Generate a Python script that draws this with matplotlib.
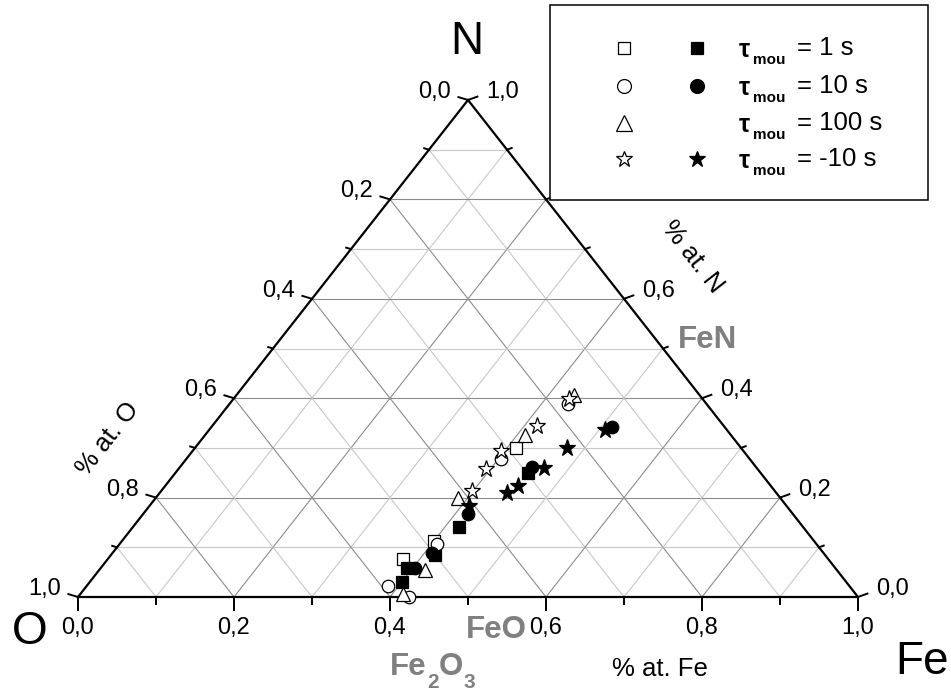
import matplotlib
matplotlib.use('Agg')
import matplotlib.pyplot as plt
from matplotlib.patches import Rectangle
import numpy as np

plt.rcParams['font.family'] = ['Liberation Sans', 'DejaVu Sans']

W, H, DPI = 951, 691, 100

# ---------------- data: atomic fractions (Fe, N), O = 1 - Fe - N ----------------
sq_open_fe = [0.412, 0.400, 0.379]
sq_open_n = [0.300, 0.113, 0.076]
sq_fill_fe = [0.453, 0.418, 0.415, 0.393, 0.400]
sq_fill_n = [0.249, 0.140, 0.085, 0.058, 0.031]
ci_open_fe = [0.434, 0.403, 0.407, 0.387, 0.424]
ci_open_n = [0.388, 0.278, 0.107, 0.022, 0.000]
ci_fill_fe = [0.513, 0.452, 0.416, 0.410, 0.403]
ci_fill_n = [0.343, 0.261, 0.168, 0.088, 0.058]
tr_open_fe = [0.433, 0.410, 0.388, 0.418, 0.414]
tr_open_n = [0.406, 0.326, 0.199, 0.054, 0.006]
st_open_fe = [0.430, 0.417, 0.395, 0.395, 0.398]
st_open_n = [0.398, 0.344, 0.294, 0.257, 0.213]
st_fill_fe = [0.507, 0.477, 0.467, 0.452, 0.445, 0.410]
st_fill_n = [0.337, 0.299, 0.260, 0.223, 0.209, 0.183]

legend_values = ['= 1 s', '= 10 s', '= 100 s', '= -10 s']
tick_values = [0.0, 0.2, 0.4, 0.6, 0.8, 1.0]
tick_labels = ['0,0', '0,2', '0,4', '0,6', '0,8', '1,0']


def tern(fe, n):
    fe = np.asarray(fe, float)
    n = np.asarray(n, float)
    return fe + n / 2.0, n


fig = plt.figure(figsize=(W / DPI, H / DPI), dpi=DPI)
X0, BASE, AW, AH = 78, 597, 780, 497
ax = fig.add_axes([X0 / W, (H - BASE) / H, AW / W, AH / H])
ax.set_xlim(0, 1)
ax.set_ylim(0, 1)
ax.axis('off')

# grid
for k in range(1, 10):
    t = k / 10
    col = '#8c8c8c' if k % 2 == 0 else '#c8c8c8'
    kw = dict(color=col, lw=0.8, zorder=1)
    ax.plot([t / 2, 1 - t / 2], [t, t], **kw)              # N = t
    ax.plot([t, t + (1 - t) / 2], [0, 1 - t], **kw)        # Fe = t
    ax.plot([1 - t, (1 - t) / 2], [0, 1 - t], **kw)        # O = t

# triangle
ax.plot([0, 1, 0.5, 0], [0, 0, 1, 0], color='k', lw=1.6, zorder=3,
        clip_on=False, solid_joinstyle='miter')

# ticks and tick labels
dl = np.array([-0.96, 0.29])
dr = np.array([0.94, 0.34])
for k in range(11):
    t = k / 10
    major = (k % 2 == 0)
    tk = dict(color='k', lw=1.4, clip_on=False, zorder=3)
    L = 13 if major else 7
    ax.plot([t, t], [0, -L / AH], **tk)
    n = 1 - t
    xl, yl = n / 2, n
    L = 10 if major else 5
    ax.plot([xl, xl + dl[0] * L / AW], [yl, yl + dl[1] * L / AH], **tk)
    xr, yr = 1 - t / 2, t
    ax.plot([xr, xr + dr[0] * L / AW], [yr, yr + dr[1] * L / AH], **tk)

TFS = 17
for v, lab in zip(tick_values, tick_labels):
    ax.text(v, -31 / AH, lab, ha='center', va='center', fontsize=TFS, zorder=4)
    n = 1 - v
    ax.text(n / 2 - 17 / AW, n + 8 / AH, lab, ha='right', va='center', fontsize=TFS, zorder=4)
    ax.text(1 - v / 2 + 18 / AW, v + 8 / AH, lab, ha='left', va='center', fontsize=TFS, zorder=4)

# data
ms_sq, ms_ci, ms_tr, ms_st = 8.5, 9.0, 10.5, 12.5
openkw = dict(ls='none', mfc='white', mec='black', mew=0.9, clip_on=False, zorder=5)
fillkw = dict(ls='none', mfc='black', mec='black', mew=0.9, clip_on=False, zorder=5)
ax.plot(*tern(sq_open_fe, sq_open_n), marker='s', ms=ms_sq, **openkw)
ax.plot(*tern(sq_fill_fe, sq_fill_n), marker='s', ms=ms_sq, **fillkw)
ax.plot(*tern(ci_open_fe, ci_open_n), marker='o', ms=ms_ci, **openkw)
ax.plot(*tern(ci_fill_fe, ci_fill_n), marker='o', ms=ms_ci, **fillkw)
ax.plot(*tern(tr_open_fe, tr_open_n), marker='^', ms=ms_tr, **openkw)
ax.plot(*tern(st_open_fe, st_open_n), marker='*', ms=ms_st, **openkw)
ax.plot(*tern(st_fill_fe, st_fill_n), marker='*', ms=ms_st, **fillkw)

# ---------------- overlay in pixel coordinates ----------------
ov = fig.add_axes([0, 0, 1, 1], zorder=5)
ov.set_xlim(0, W)
ov.set_ylim(H, 0)
ov.axis('off')

ov.text(467, 42, 'N', fontsize=33, ha='center', va='center')
ov.text(30, 632, 'O', fontsize=33, ha='center', va='center')
ov.text(922, 662, 'Fe', fontsize=33, ha='center', va='center')
ov.text(660, 669, '% at. Fe', fontsize=18.5, ha='center', va='center')
ov.text(108, 439, '% at. O', fontsize=18.5, ha='center', va='center', rotation=52,
        rotation_mode='anchor')
ov.text(692, 257, '% at. N', fontsize=18.5, ha='center', va='center', rotation=-52,
        rotation_mode='anchor')

gray = '#808080'
ov.text(707, 340, 'FeN', fontsize=22.5, fontweight='bold', color=gray, ha='center', va='center')
ov.text(496, 630, 'FeO', fontsize=22.5, fontweight='bold', color=gray, ha='center', va='center')
ov.text(390, 675, 'Fe', fontsize=22.5, fontweight='bold', color=gray, ha='left', va='baseline')
ov.text(427, 688, '2', fontsize=15, fontweight='bold', color=gray, ha='left', va='baseline')
ov.text(439, 675, 'O', fontsize=22.5, fontweight='bold', color=gray, ha='left', va='baseline')
ov.text(464, 688, '3', fontsize=15, fontweight='bold', color=gray, ha='left', va='baseline')

# legend
ov.add_patch(Rectangle((550, 5), 378, 195, facecolor='white', edgecolor='black', lw=1.1, zorder=1))
rows = [47.5, 85.5, 122.5, 158.5]
open_m = [('s', 9), ('o', 10), ('^', 11), ('*', 12)]
fill_m = [('s', 9), ('o', 10), None, ('*', 12)]
for i, y in enumerate(rows):
    m, s = open_m[i]
    ov.plot([624], [y], marker=m, ms=s, ls='none', mfc='white', mec='black', mew=0.9, zorder=2)
    if fill_m[i] is not None:
        m, s = fill_m[i]
        ov.plot([697], [y], marker=m, ms=s, ls='none', mfc='black', mec='black', mew=0.9, zorder=2)
    ov.text(739, y + 2.5, 'τ', fontsize=18, fontweight='bold', ha='left', va='center', zorder=3)
    ov.text(753, y + 12, 'mou', fontsize=11, fontweight='bold', ha='left', va='center', zorder=3)
    ov.text(797, y, legend_values[i], fontsize=18.5, ha='left', va='center', zorder=3)

fig.savefig('out.png', dpi=DPI)
